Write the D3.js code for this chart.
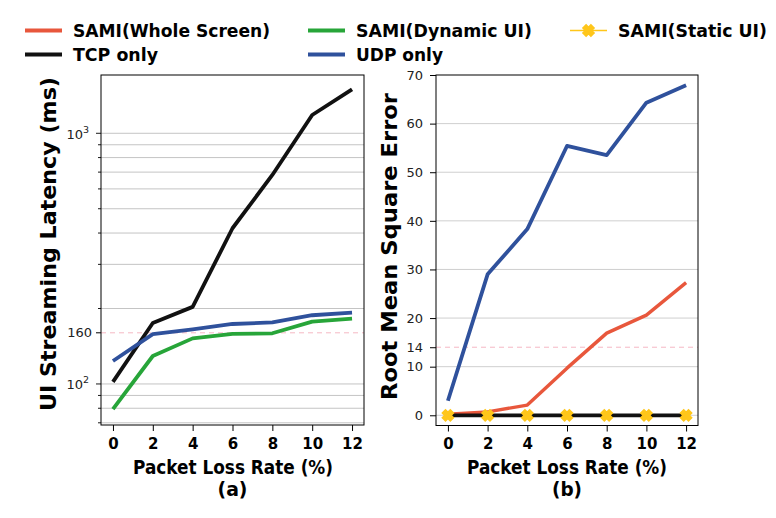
<!DOCTYPE html>
<html><head><meta charset="utf-8">
<script src="https://cdn.jsdelivr.net/npm/d3@7"></script>
<style>body{margin:0;background:#fff}svg{display:block}text{font-family:"DejaVu Sans",sans-serif}</style>
</head><body>
<svg id="c" width="776" height="518"></svg>
<script>
const lossRates = [0, 2, 4, 6, 8, 10, 12];
// (a) latency (ms)
const tcpLatency = [102, 175, 203, 418, 682, 1183, 1498];
const udpLatency = [123.5, 158, 165, 173.5, 176, 188, 192.5];
const dynLatency = [79.3, 129.3, 152, 158.3, 159.3, 177.3, 182.3];
// (b) RMSE
const udpRmse = [3.0, 29.0, 38.3, 55.4, 53.5, 64.3, 67.9];
const wholeRmse = [0.2, 0.7, 2.1, 9.7, 16.9, 20.6, 27.3];
const tcpRmse = [0, 0, 0, 0, 0, 0, 0];
const staticRmse = [0, 0, 0, 0, 0, 0, 0];
const xTicks = [0, 2, 4, 6, 8, 10, 12];
const rmseTicks = [0, 10, 14, 20, 30, 40, 50, 60, 70];
const latencyTicks = [70, 80, 90, 100, 200, 300, 400, 500, 600, 700, 800, 900, 1000];
const latencyThreshold = 160, rmseThreshold = 14;
const legendItems = [
  {name: "SAMI(Whole Screen)", color: "#E8573C", len: 197},
  {name: "TCP only", color: "#111111", len: 85},
  {name: "SAMI(Dynamic UI)", color: "#27A539", len: 176},
  {name: "UDP only", color: "#2F519C", len: 87},
  {name: "SAMI(Static UI)", color: "#FFC61A", marker: true, len: 149}
];
const C = {red:"#E8573C", black:"#111111", green:"#27A539", blue:"#2F519C", yellow:"#FFC61A"};

const svg = d3.select("#c");
const xMark = d3.symbol().type(d3.symbolX).size(55)();

function boldText(g, x, y, str, size, len, anchor) {
  return g.append("text").attr("x", x).attr("y", y).attr("text-anchor", anchor || "middle")
    .attr("font-size", size).attr("font-weight", "bold").attr("fill", "#000")
    .attr("textLength", len).attr("lengthAdjust", "spacingAndGlyphs").text(str);
}

// ---------- Panel (a) ----------
const A = {l:101, r:364, t:75, b:425};
const xa = d3.scaleLinear().domain([-0.6, 12.6]).range([A.l, A.r]);
const ya = d3.scaleLog().domain([68.6, 1708]).range([A.b, A.t]);
const ga = svg.append("g");
ga.selectAll("line.grid").data(latencyTicks).join("line")
  .attr("x1", A.l).attr("x2", A.r).attr("y1", d=>ya(d)).attr("y2", d=>ya(d))
  .attr("stroke", "#bdbdbd").attr("stroke-width", 0.9);
ga.append("line").attr("x1", A.l).attr("x2", A.r).attr("y1", ya(latencyThreshold)).attr("y2", ya(latencyThreshold))
  .attr("stroke", "#f5b8c4").attr("stroke-width", 1).attr("stroke-dasharray", "5,4");
const lineA = d => d3.line().x((v,i)=>xa(lossRates[i])).y(v=>ya(v))(d);
[[tcpLatency, C.black],[udpLatency, C.blue],[dynLatency, C.green]].forEach(([d,c])=>{
  ga.append("path").attr("d", lineA(d)).attr("fill","none").attr("stroke",c).attr("stroke-width",3.8).attr("stroke-linejoin","round");
});
ga.append("rect").attr("x",A.l).attr("y",A.t).attr("width",A.r-A.l).attr("height",A.b-A.t).attr("fill","none").attr("stroke","#000").attr("stroke-width",1);
ga.selectAll("line.mt").data(latencyTicks).join("line")
  .attr("x1", A.l).attr("x2", d=> (d===100||d===1000)? A.l-5 : A.l-3)
  .attr("y1", d=>ya(d)).attr("y2", d=>ya(d)).attr("stroke","#000").attr("stroke-width",0.9);
ga.append("line").attr("x1",A.l).attr("x2",A.l-5).attr("y1",ya(latencyThreshold)).attr("y2",ya(latencyThreshold)).attr("stroke","#000");
[[100,"2"],[1000,"3"]].forEach(([v,e])=>{
  const t = ga.append("text").attr("x", 89).attr("y", ya(v)+5.5).attr("text-anchor","end").attr("font-size",13).attr("fill","#222");
  t.append("tspan").text("10");
  t.append("tspan").attr("dy",-6).attr("font-size",9.5).text(e);
});
ga.append("text").attr("x",92).attr("y",ya(latencyThreshold)+4.6).attr("text-anchor","end").attr("font-size",13).attr("fill","#222").text(latencyThreshold);
const gxa = ga.append("g").attr("transform",`translate(0,${A.b})`).call(d3.axisBottom(xa).tickValues(xTicks).tickSize(6).tickPadding(7));
gxa.select(".domain").remove();
gxa.selectAll("text").attr("font-size",15).attr("font-weight","bold").attr("fill","#000").attr("font-family","DejaVu Sans");
boldText(ga, (A.l+A.r)/2+0.5, 474, "Packet Loss Rate (%)", 19, 200);
boldText(ga, (A.l+A.r)/2, 496, "(a)", 19, 30);
ga.append("text").attr("transform",`translate(55.5,244) rotate(-90)`).attr("text-anchor","middle")
  .attr("font-size",20.5).attr("font-weight","bold").attr("textLength",334).attr("lengthAdjust","spacingAndGlyphs").text("UI Streaming Latency (ms)");

// ---------- Panel (b) ----------
const B = {l:436, r:698, t:75, b:425.5};
const xb = d3.scaleLinear().domain([-0.6, 12.6]).range([B.l, B.r]);
const yb = d3.scaleLinear().domain([-2.1, 70]).range([B.b, B.t]);
const gb = svg.append("g");
gb.selectAll("line.grid").data([0,10,20,30,40,50,60]).join("line")
  .attr("x1",B.l).attr("x2",B.r).attr("y1",d=>yb(d)).attr("y2",d=>yb(d)).attr("stroke","#cfcfcf").attr("stroke-width",1);
gb.append("line").attr("x1",B.l).attr("x2",B.r).attr("y1",yb(rmseThreshold)).attr("y2",yb(rmseThreshold))
  .attr("stroke","#f5b8c4").attr("stroke-width",1).attr("stroke-dasharray","5,4");
const lineB = d => d3.line().x((v,i)=>xb(lossRates[i])).y(v=>yb(v))(d);
gb.append("path").attr("d",lineB(staticRmse)).attr("fill","none").attr("stroke",C.yellow).attr("stroke-width",1.5);
gb.append("path").attr("d",lineB(udpRmse)).attr("fill","none").attr("stroke",C.blue).attr("stroke-width",3.8).attr("stroke-linejoin","round");
gb.append("path").attr("d",lineB(wholeRmse)).attr("fill","none").attr("stroke",C.red).attr("stroke-width",3.4).attr("stroke-linejoin","round");
gb.append("path").attr("d",lineB(tcpRmse)).attr("fill","none").attr("stroke",C.black).attr("stroke-width",3.8);
gb.selectAll("path.mk").data(staticRmse).join("path")
  .attr("transform",(v,i)=>`translate(${xb(lossRates[i])},${yb(v)})`)
  .attr("d", xMark).attr("fill","none").attr("stroke",C.yellow).attr("stroke-width",6);
gb.append("rect").attr("x",B.l).attr("y",B.t).attr("width",B.r-B.l).attr("height",B.b-B.t).attr("fill","none").attr("stroke","#000").attr("stroke-width",1);
const gyb = gb.append("g").attr("transform",`translate(${B.l},0)`).call(d3.axisLeft(yb).tickValues(rmseTicks).tickSize(6).tickPadding(7));
gyb.select(".domain").remove();
gyb.selectAll("text").attr("font-size",13).attr("fill","#222").attr("font-family","DejaVu Sans");
const gxb = gb.append("g").attr("transform",`translate(0,${B.b})`).call(d3.axisBottom(xb).tickValues(xTicks).tickSize(6).tickPadding(7));
gxb.select(".domain").remove();
gxb.selectAll("text").attr("font-size",15).attr("font-weight","bold").attr("fill","#000").attr("font-family","DejaVu Sans");
boldText(gb, (B.l+B.r)/2, 474, "Packet Loss Rate (%)", 19, 200);
boldText(gb, (B.l+B.r)/2, 496, "(b)", 19, 30);
gb.append("text").attr("transform",`translate(396.5,246.5) rotate(-90)`).attr("text-anchor","middle")
  .attr("font-size",20.5).attr("font-weight","bold").attr("textLength",307).attr("lengthAdjust","spacingAndGlyphs").text("Root Mean Square Error");

// ---------- Legend ----------
const colX = [25, 308, 570], rowY = [30.5, 54.5];
const lg = svg.append("g");
legendItems.forEach((it, k) => {
  const col = Math.floor(k/2), row = k%2;
  const x = colX[col], y = rowY[row];
  lg.append("line").attr("x1",x).attr("x2",x+37).attr("y1",y).attr("y2",y).attr("stroke",it.color).attr("stroke-width", it.marker?1.5:3.8);
  if (it.marker) lg.append("path").attr("transform",`translate(${x+18.5},${y})`).attr("d", xMark)
    .attr("fill","none").attr("stroke",it.color).attr("stroke-width",6);
  boldText(lg, x+48, y+6.5, it.name, 18, it.len, "start");
});
</script>
</body></html>
